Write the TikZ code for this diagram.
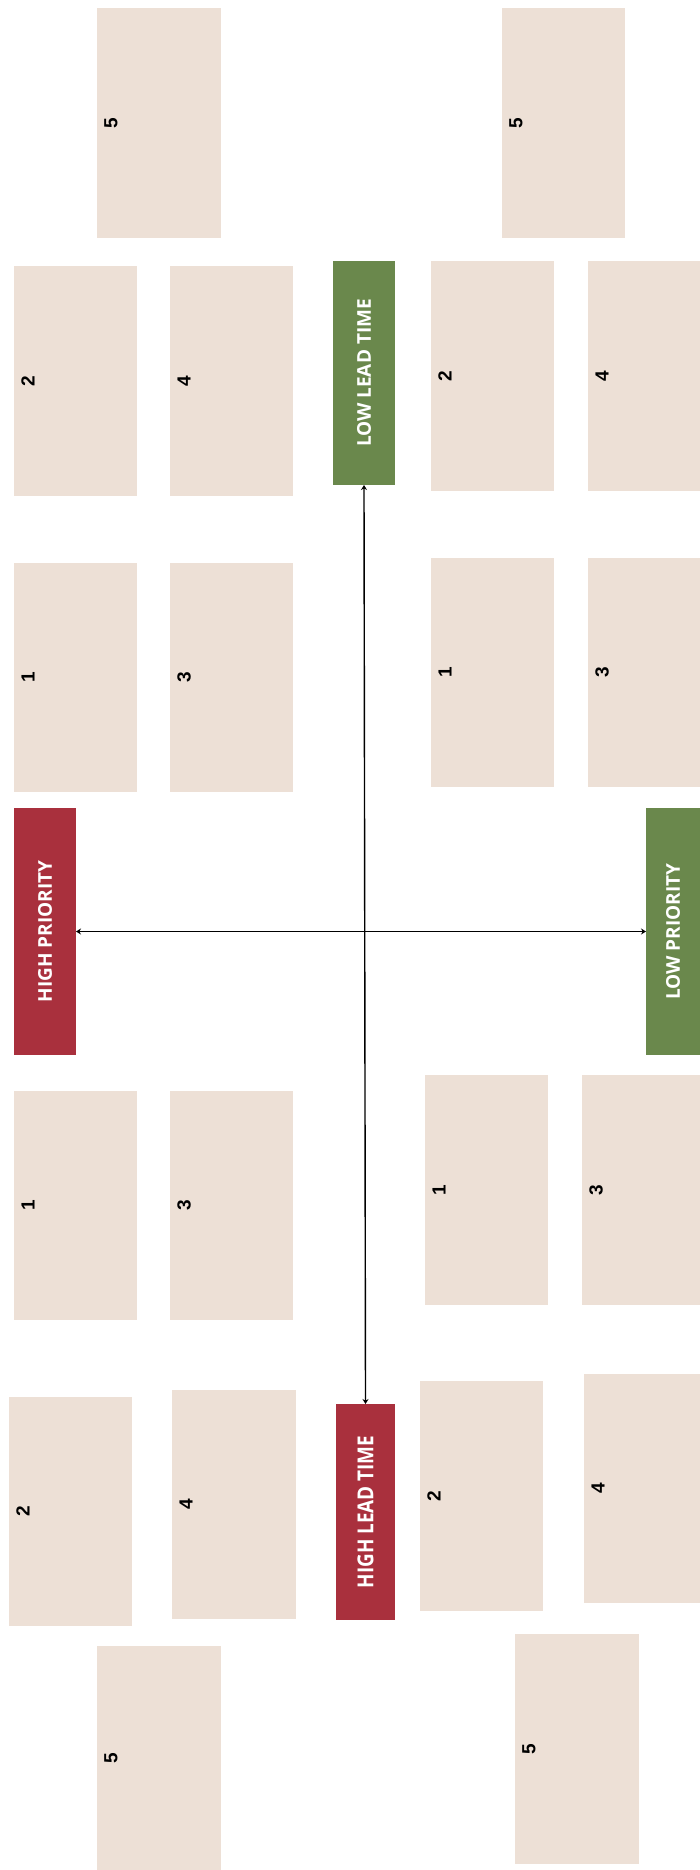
\documentclass[tikz,border=0pt]{standalone}
\usepackage{fontspec}
\usepackage{graphicx}
\setmainfont{Liberation Sans}
\newfontfamily\labfont{Open Sans}
\usetikzlibrary{arrows.meta}
\definecolor{cardbg}{RGB}{237,224,214}
\definecolor{hired}{RGB}{169,48,61}
\definecolor{logreen}{RGB}{106,136,76}
\tikzset{
  card/.style={fill=cardbg, draw=none, anchor=north west, inner sep=0pt, outer sep=0pt},
  num/.style={rotate=90, font={\bfseries\fontsize{19pt}{19pt}\selectfont}, inner sep=0pt},
  tagbox/.style={anchor=north west, inner sep=0pt, outer sep=0pt, draw=none},
  tagtext/.style={rotate=90, text=white, font={\labfont\bfseries\fontsize{19pt}{19pt}\selectfont}, inner sep=0pt},
  axis/.style={line width=1.4pt, {Stealth[length=5pt,width=6pt]}-{Stealth[length=5pt,width=6pt]}}
}
\newcommand{\cardat}[6]{%
  \node[card, minimum width=#4pt, minimum height=#5pt] (#1) at (#2,#3) {};
  \node[num] (#1n) at ([xshift=14pt]#1.west) {#6};
}
\begin{document}
\begin{tikzpicture}[x=1pt,y=-1pt]
\fill[white] (0,0) rectangle (700,1870);
\useasboundingbox (0,0) rectangle (700,1870);
% top-left
\cardat{tlfive}{97}{8}{124}{230}{5}
\cardat{tltwo}{14}{266}{123}{230}{2}
\cardat{tlfour}{170}{266}{123}{230}{4}
\cardat{tlone}{14}{563}{123}{229}{1}
\cardat{tlthree}{170}{563}{123}{229}{3}
% top-right
\cardat{trfive}{502}{8}{123}{230}{5}
\cardat{trtwo}{431}{261}{123}{230}{2}
\cardat{trfour}{588}{261}{112}{230}{4}
\cardat{trone}{431}{558}{123}{229}{1}
\cardat{trthree}{588}{558}{112}{229}{3}
% bottom-left
\cardat{blone}{14}{1091}{123}{229}{1}
\cardat{blthree}{170}{1091}{123}{229}{3}
\cardat{bltwo}{9}{1397}{123}{229}{2}
\cardat{blfour}{172}{1390}{124}{229}{4}
\cardat{blfive}{97}{1646}{124}{224}{5}
% bottom-right
\cardat{brone}{425}{1075}{123}{230}{1}
\cardat{brthree}{582}{1075}{118}{230}{3}
\cardat{brtwo}{420}{1381}{123}{230}{2}
\cardat{brfour}{584}{1374}{116}{229}{4}
\cardat{brfive}{515}{1634}{124}{230}{5}
% tags
\node[tagbox, fill=logreen, minimum width=62pt, minimum height=224pt] (lowlead) at (333,261) {};
\node[tagtext] (lowleadt) at (lowlead.center) {LOW LEAD TIME};
\node[tagbox, fill=hired, minimum width=59pt, minimum height=216pt] (highlead) at (336,1404) {};
\node[tagtext, font={\labfont\bfseries\fontsize{22pt}{22pt}\selectfont}] (highleadt) at (highlead.center) {\scalebox{0.86}[1]{HIGH LEAD TIME}};
\node[tagbox, fill=hired, minimum width=62pt, minimum height=247pt] (hipri) at (14,808) {};
\node[tagtext] (hiprit) at (hipri.center) {HIGH PRIORITY};
\node[tagbox, fill=logreen, minimum width=54pt, minimum height=247pt] (lopri) at (646,808) {};
\node[tagtext] (coprit) at (lopri.center) {LOW PRIORITY};
% axes
\draw[axis] (lowlead.south) -- (highlead.north);
\draw[axis] (hipri.east) -- (lopri.west);
\end{tikzpicture}
\end{document}
